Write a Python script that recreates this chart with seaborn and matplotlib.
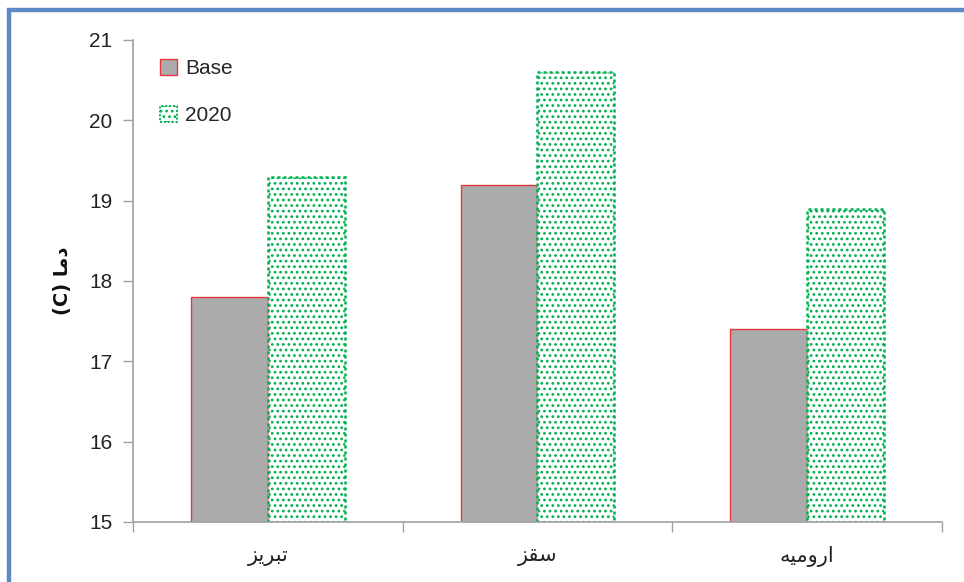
import matplotlib
matplotlib.use("Agg")
import matplotlib.pyplot as plt
from matplotlib.patches import Patch, Rectangle
from matplotlib.ticker import FixedLocator
import seaborn as sns
import pandas as pd

# Station names (logical order) and their pre-shaped visual forms for rendering
stations = ["تبریز", "سقز", "ارومیه"]
station_labels = ["\uFEB0\uFEF3\uFEAE\uFE92\uFE97",          # تبریز
                  "\uFEB0\uFED8\uFEB3",                      # سقز
                  "\uFEEA\uFEF4\uFEE3\uFEED\uFEAD\uFE8D"]    # ارومیه
series = ["Base", "2020"]
base_values = [17.8, 19.2, 17.4]
future_values = [19.3, 20.6, 18.9]
y_ticks = [15, 16, 17, 18, 19, 20, 21]
y_label = "(C) \uFE8E\uFEE3\uFEA9"  # دما (C)

df = pd.DataFrame({
    "station": stations * 2,
    "series": [series[0]] * 3 + [series[1]] * 3,
    "value": base_values + future_values,
})

sns.set_theme(style="white")
plt.rcParams["font.family"] = ["Liberation Sans", "DejaVu Sans"]
plt.rcParams["hatch.linewidth"] = 1.2

fig = plt.figure(figsize=(9.64, 5.82), dpi=100)
ax = fig.add_axes([0.138, 0.1031, 0.839, 0.8282])

grey = "#ABABAB"
red = "#E8383D"
green = "#00B050"

sns.barplot(data=df, x="station", y="value", hue="series", order=stations,
            hue_order=series, width=0.57, ax=ax, legend=False,
            palette=[grey, "white"], saturation=1)

for bar in ax.containers[0]:
    bar.set_facecolor(grey)
    bar.set_edgecolor(red)
    bar.set_linewidth(1.0)
for bar in ax.containers[1]:
    bar.set_facecolor("white")
    bar.set_edgecolor(green)
    bar.set_hatch("...")
    bar.set_linestyle((0, (1.2, 1.2)))
    bar.set_linewidth(1.8)

ax.set_ylim(15, 21)
ax.set_yticks(y_ticks)
ax.set_xlim(-0.5, 2.5)
ax.set_xticks(range(len(stations)))
ax.set_xticklabels(station_labels, family="DejaVu Sans", fontsize=15, color="#222222")
ax.xaxis.set_minor_locator(FixedLocator([-0.5, 0.5, 1.5, 2.5]))
ax.tick_params(axis="x", which="major", length=0, pad=17)
ax.tick_params(axis="x", which="minor", length=7, width=1, color="#A0A0A0", direction="out")
ax.tick_params(axis="y", length=7, width=1, color="#A0A0A0", direction="out",
               labelsize=15, labelcolor="#222222", pad=8)
ax.xaxis.set_ticks_position("bottom")
ax.yaxis.set_ticks_position("left")

for side in ["top", "right"]:
    ax.spines[side].set_visible(False)
for side in ["left", "bottom"]:
    ax.spines[side].set_color("#A0A0A0")
    ax.spines[side].set_linewidth(1.2)

ax.set_xlabel("")
ax.set_ylabel(y_label, family="DejaVu Sans", fontsize=14, fontweight="bold",
              color="#111111", labelpad=12)

handles = [
    Patch(facecolor=grey, edgecolor=red, linewidth=1.0, label=series[0]),
    Patch(facecolor="white", edgecolor=green, hatch="...", linewidth=1.4,
          linestyle=(0, (1, 1)), label=series[1]),
]
ax.legend(handles=handles, loc="upper left", bbox_to_anchor=(0.01, 1.0),
          frameon=False, fontsize=15, handlelength=0.8, handleheight=0.8,
          handletextpad=0.4, labelspacing=1.35)

# Blue frame around the chart area
fig.patches.append(Rectangle((9 / 964, -0.1), 1.2, 1 - 10 / 582 + 0.1,
                             transform=fig.transFigure, fill=False,
                             edgecolor="#5B8BC7", linewidth=3.2, zorder=10))

fig.savefig("out.png", dpi=100, facecolor="white")
